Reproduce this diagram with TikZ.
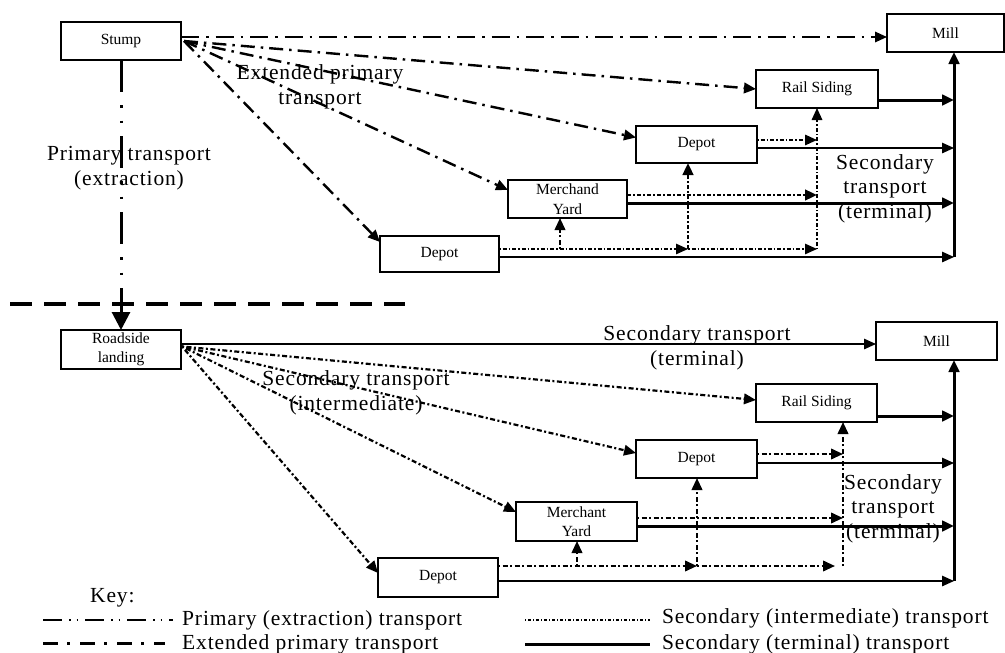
\documentclass[tikz,border=0pt]{standalone}
\usepackage{fontspec}
\setmainfont{Liberation Serif}
\newfontfamily\lblfont[LetterSpace=4]{Liberation Serif}
\usetikzlibrary{arrows.meta}
\begin{document}
\begin{tikzpicture}[x=1pt,y=-1pt,
  box/.style={draw, line width=1.4pt, inner sep=0pt, outer sep=0pt, font=\fontsize{15.5}{19.5}\selectfont, align=center},
  lbl/.style={font=\lblfont\fontsize{21.5}{24.5}\selectfont, align=center, inner sep=0pt, anchor=base},
  tip/.style={-{Triangle[length=12pt,width=10.5pt]}},
  bigtip/.style={-{Triangle[length=18pt,width=18pt]}},
  primline/.style={line width=1.7pt, dash pattern=on 18pt off 7pt on 2.5pt off 7pt},
  extprim/.style={line width=2.4pt, dash pattern=on 14pt off 6pt on 2.5pt off 6pt},
  primvert/.style={line width=3pt, dash pattern=on 32pt off 13pt on 2.5pt off 13pt on 2.5pt off 13pt},
  sepline/.style={line width=3.5pt, dash pattern=on 22pt off 12pt},
  thinsolid/.style={line width=1.3pt},
  term/.style={line width=3pt},
  secthin/.style={line width=1.2pt, dash pattern=on 1.5pt off 2pt on 4pt off 2pt},
  secone/.style={line width=1.6pt, dash pattern=on 1.5pt off 2pt on 4pt off 2pt},
  secmed/.style={line width=2.2pt, dash pattern=on 2pt off 2.5pt on 5pt off 2.5pt},
  secthick/.style={line width=2.8pt, dash pattern=on 4pt off 2pt on 2pt off 2pt},
  keyprim/.style={line width=1.1pt, dash pattern=on 19pt off 7pt on 1.5pt off 6pt on 1.5pt off 7pt},
  keyext/.style={line width=3pt, dash pattern=on 15pt off 9pt on 3pt off 10pt},
  keyint/.style={line width=1.1pt, dash pattern=on 1pt off 2pt on 3pt off 2pt},
  keyterm/.style={line width=3pt}
]
\fill[white] (0,0) rectangle (1005,653);
\useasboundingbox (0,0) rectangle (1005,653);

% ---------- top section boxes
\node[box, minimum width=120pt, minimum height=38pt] (stump) at (121,41) {Stump};
\node[box, minimum width=117pt, minimum height=38pt] (millT) at (945.5,33) {Mill};
\node[box, minimum width=122pt, minimum height=38pt] (railT) at (817,89) {Rail Siding};
\node[box, minimum width=121pt, minimum height=37pt] (depotU) at (696.5,144.5) {Depot};
\node[box, minimum width=119pt, minimum height=38pt] (merchT) at (567.5,199) {Merchand\\Yard};
\node[box, minimum width=119pt, minimum height=36pt] (depotL) at (439.5,254) {Depot};

% ---------- bottom section boxes
\node[box, minimum width=120pt, minimum height=39pt] (road) at (121,349.5) {Roadside\\landing};
\node[box, minimum width=121pt, minimum height=38pt] (millB) at (936.5,341) {Mill};
\node[box, minimum width=121pt, minimum height=38pt] (railB) at (816.5,403) {Rail Siding};
\node[box, minimum width=121pt, minimum height=38pt] (depotU2) at (696.5,459) {Depot};
\node[box, minimum width=121pt, minimum height=39pt] (merchB) at (576.5,521.5) {Merchant\\Yard};
\node[box, minimum width=120pt, minimum height=39pt] (depotL2) at (438,577.5) {Depot};

% ---------- labels (anchor at baseline of last line)
\node[lbl] (lprim) at (129,185) {Primary transport\\(extraction)};
\node[lbl] (lext) at (320,104) {Extended primary\\transport};
\node[lbl] (lterm1) at (885,218) {Secondary\\transport\\(terminal)};
\node[lbl] (lterm2) at (697,365) {Secondary transport\\(terminal)};
\node[lbl] (linter) at (356,410) {Secondary transport\\(intermediate)};
\node[lbl] (lterm3) at (893,538) {Secondary\\transport\\(terminal)};

% ---------- separator
\coordinate (dl1) at (10,304);
\coordinate (dl2) at (405,304);
\draw[sepline] (dl1) -- (dl2);

% ---------- stump connectors
\coordinate (s0) at ([xshift=3pt]stump.east);
\draw[primline, tip] ([yshift=4pt]stump.east) -- ([yshift=4pt]stump.east -| millT.west);
\draw[extprim, tip] (s0) -- (railT.west);
\draw[extprim, tip] (s0) -- ([yshift=7pt]depotU.west);
\draw[extprim, tip] (s0) -- ([yshift=9pt]merchT.west);
\draw[extprim, tip] (s0) -- ([yshift=12pt]depotL.west);
\draw[primvert, bigtip] (stump.south) -- (road.north);

% ---------- top right network
\coordinate (busT) at (954,257);
\coordinate (jT) at (688,249);
\coordinate (vT) at (817,249);
\coordinate (mT) at (560,249);
\draw[term, tip] ([yshift=-11pt]railT.east) -- ([yshift=-11pt]railT.east -| busT);
\draw[thinsolid, tip] ([yshift=-3.5pt]depotU.east) -- ([yshift=-3.5pt]depotU.east -| busT);
\draw[secone, tip] ([yshift=4.5pt]depotU.east) -- ([yshift=4.5pt]depotU.east -| vT);
\draw[term, tip] ([yshift=-4pt]merchT.east) -- ([yshift=-4pt]merchT.east -| busT);
\draw[secthick, tip] ([yshift=4pt]merchT.east) -- ([yshift=4pt]merchT.east -| vT);
\draw[thinsolid, tip] ([yshift=-3pt]depotL.east) -- (busT);
\draw[secthin, tip] ([yshift=5pt]depotL.east) -- (jT);
\draw[secthin, tip] (jT) -- (vT);
\draw[secthick, tip] (jT) -- (jT |- depotU.south);
\draw[secone, tip] (vT) -- (vT |- railT.south);
\draw[secmed, tip] (mT) -- (mT |- merchT.south);
\draw[term, tip] (busT) -- (busT |- millT.south);

% ---------- roadside connectors
\coordinate (r0) at ([xshift=1pt,yshift=3pt]road.east);
\draw[thinsolid, tip] ([yshift=5.5pt]road.east) -- ([yshift=5.5pt]road.east -| millB.west);
\draw[secmed, tip] (r0) -- ([yshift=3pt]railB.west);
\draw[secmed, tip] (r0) -- ([yshift=6pt]depotU2.west);
\draw[secmed, tip] (r0) -- ([yshift=9.5pt]merchB.west);
\draw[secmed, tip] (r0) -- ([yshift=4.5pt]depotL2.west);

% ---------- bottom right network
\coordinate (busB) at (954,581);
\coordinate (jB) at (697,566);
\coordinate (vB) at (843,566);
\coordinate (mB) at (577,566);
\draw[term, tip] ([yshift=-13pt]railB.east) -- ([yshift=-13pt]railB.east -| busB);
\draw[thinsolid, tip] ([yshift=-4pt]depotU2.east) -- ([yshift=-4pt]depotU2.east -| busB);
\draw[secmed, tip] ([yshift=5pt]depotU2.east) -- ([yshift=5pt]depotU2.east -| vB);
\draw[term, tip] ([yshift=-4.5pt]merchB.east) -- ([yshift=-4.5pt]merchB.east -| busB);
\draw[secmed, tip] ([yshift=3.5pt]merchB.east) -- ([yshift=3.5pt]merchB.east -| vB);
\draw[thinsolid, tip] ([yshift=-3.5pt]depotL2.east) -- (busB);
\draw[secmed, tip] ([yshift=11.5pt]depotL2.east) -- (jB);
\draw[secmed, tip] (jB) -- ([xshift=-8pt]vB);
\draw[secmed, tip] (jB) -- (jB |- depotU2.south);
\draw[secmed, tip] (vB) -- (vB |- railB.south);
\draw[secmed, tip] (mB) -- (mB |- merchB.south);
\draw[term, tip] (busB) -- (busB |- millB.south);

% ---------- key
\node[lbl, anchor=base west] (keyhd) at (90,602) {Key:};
\node[lbl, anchor=base west] (k1) at (182,625) {Primary (extraction) transport};
\node[lbl, anchor=base west] (k2) at (182,649) {Extended primary transport};
\node[lbl, anchor=base west] (k3) at (662,623) {Secondary (intermediate) transport};
\node[lbl, anchor=base west] (k4) at (662,649) {Secondary (terminal) transport};
\draw[keyprim] (43,620) -- (173,620);
\draw[keyext] (43,643) -- (165,643);
\draw[keyint] (525,620) -- (650,620);
\draw[keyterm] (525,644) -- (650,644);
\end{tikzpicture}
\end{document}
